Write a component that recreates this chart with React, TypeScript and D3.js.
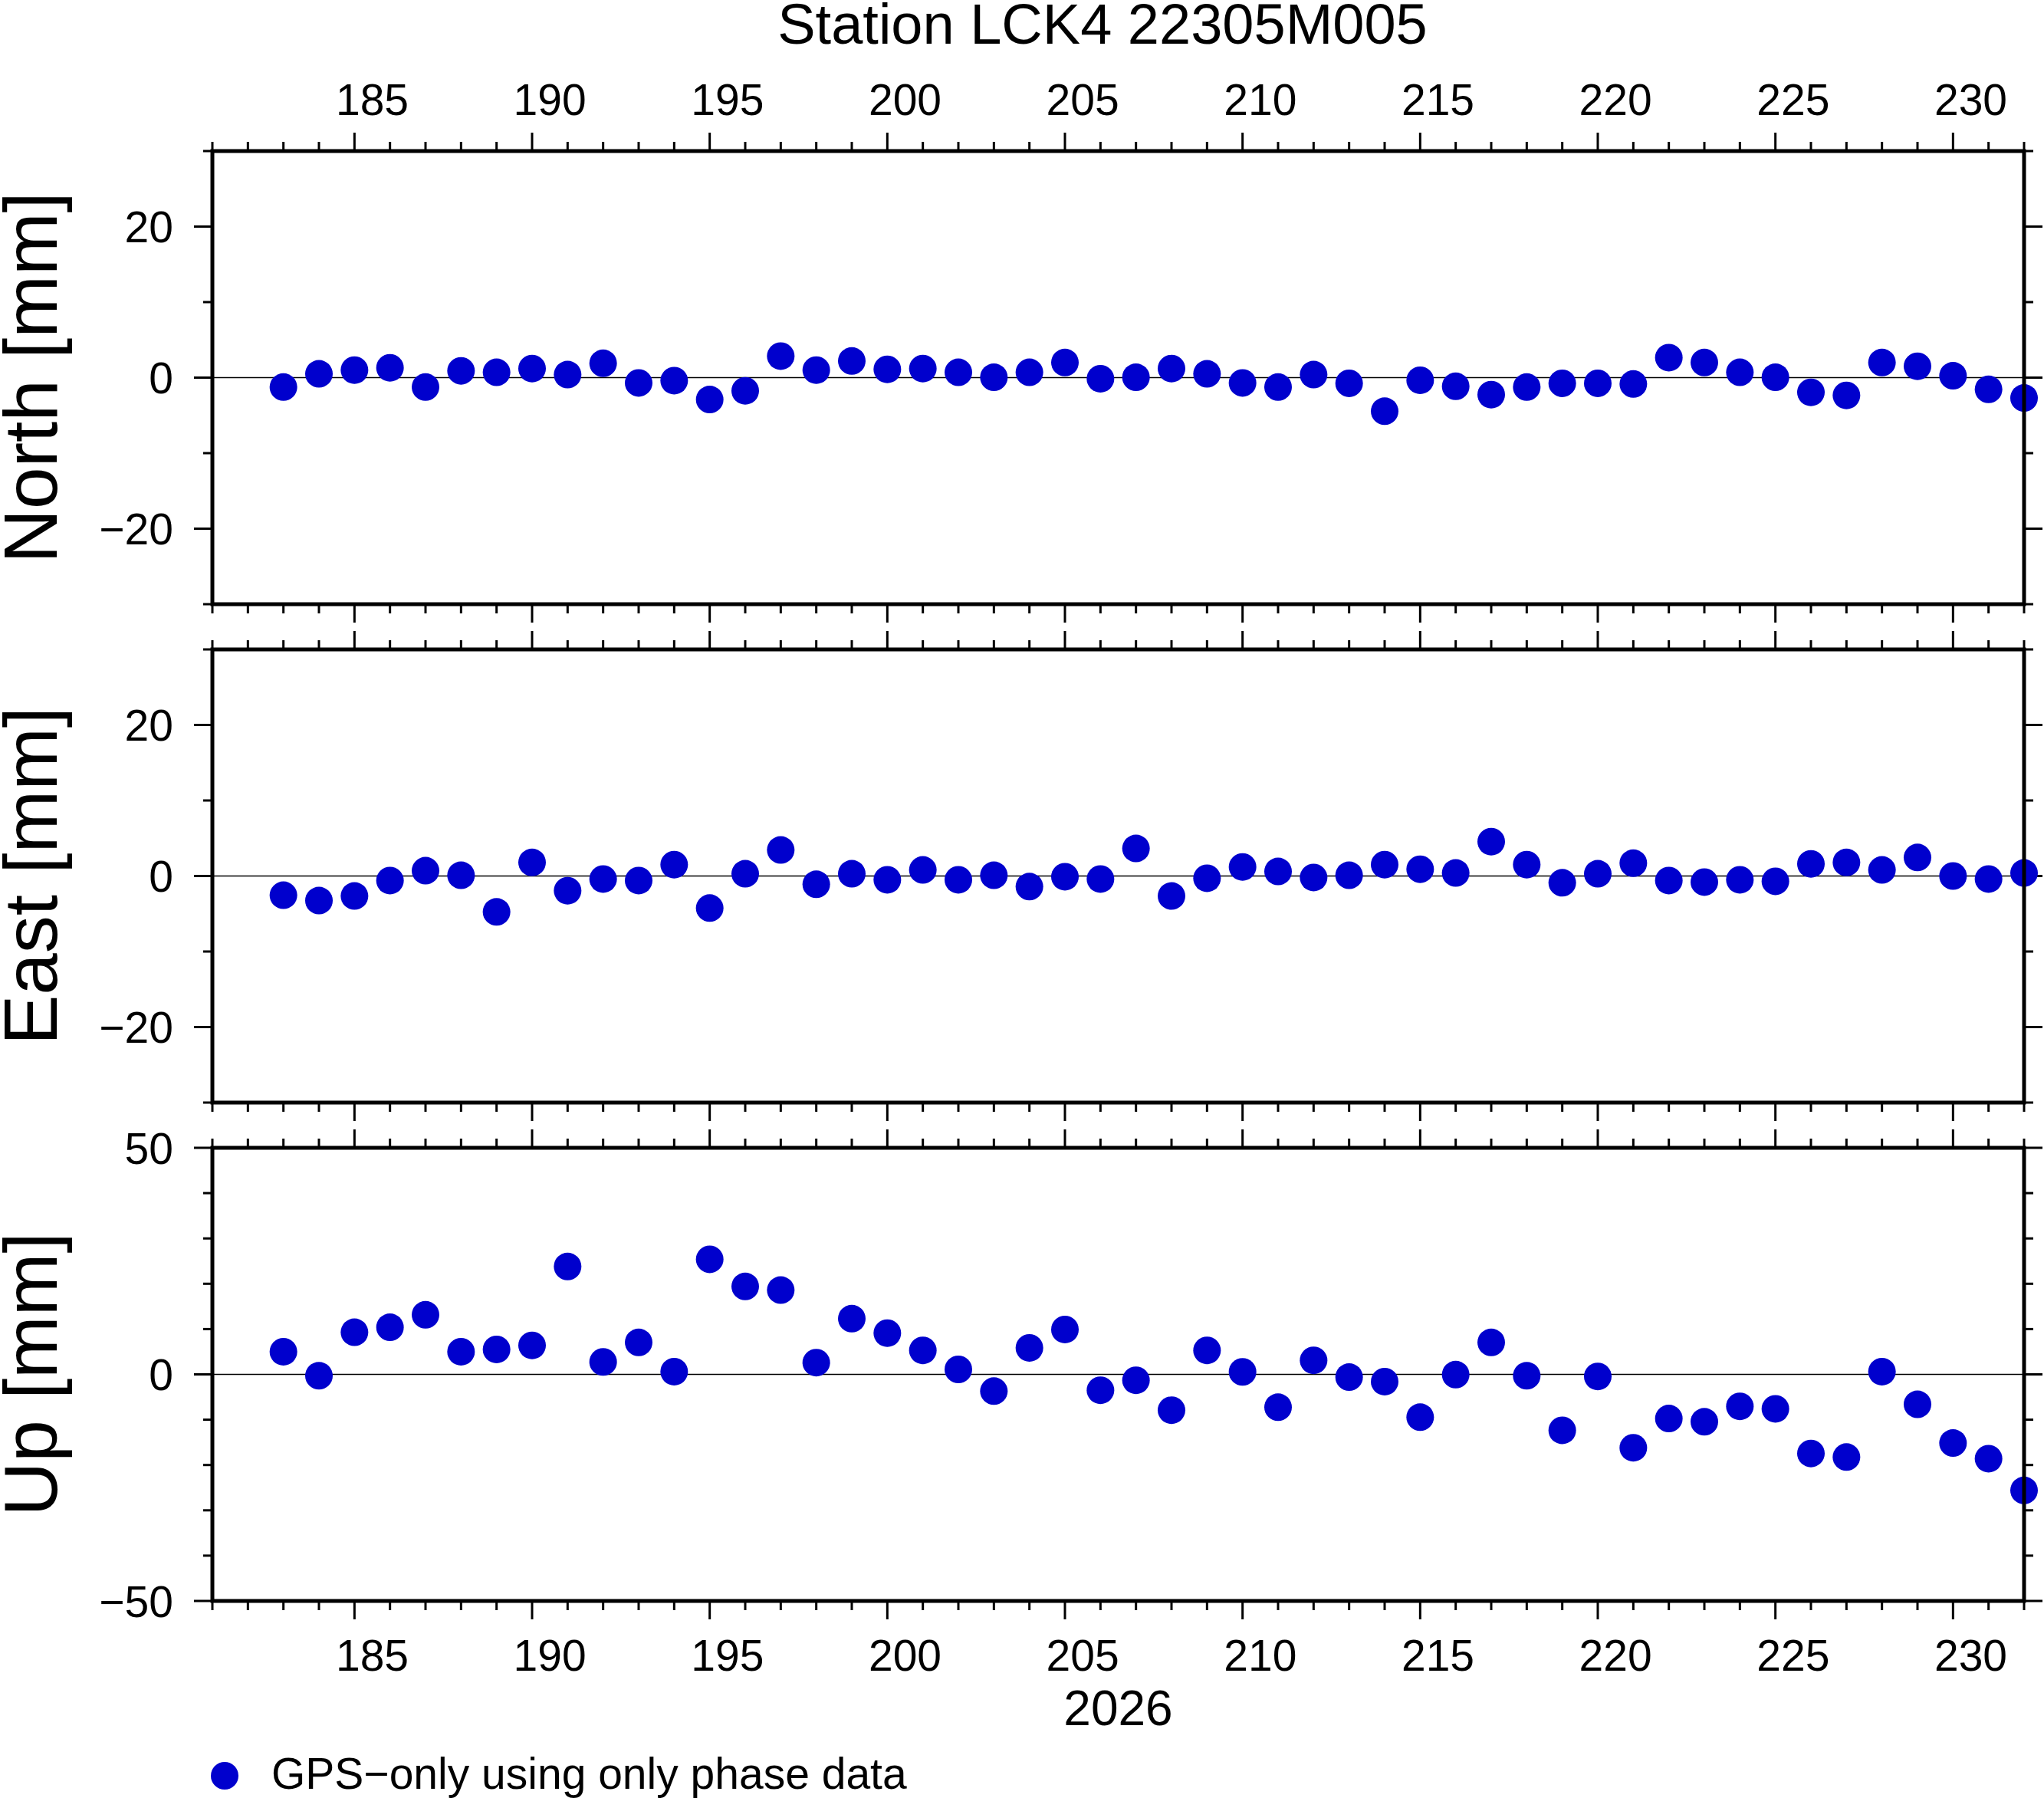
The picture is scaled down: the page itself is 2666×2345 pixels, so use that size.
import { useEffect, useRef } from 'react';
import * as d3 from 'd3';

// Day of year 2026 for each daily solution
const days = [
  183, 184, 185, 186, 187, 188, 189, 190, 191, 192,
  193, 194, 195, 196, 197, 198, 199, 200, 201, 202,
  203, 204, 205, 206, 207, 208, 209, 210, 211, 212,
  213, 214, 215, 216, 217, 218, 219, 220, 221, 222,
  223, 224, 225, 226, 227, 228, 229, 230, 231, 232,
];

// Residuals in mm
const north = [
  -1.25, 0.5, 1.0, 1.3, -1.25, 0.9, 0.7, 1.2, 0.4, 1.9,
  -0.7, -0.4, -2.9, -1.75, 2.85, 1.0, 2.2, 1.1, 1.2, 0.7,
  0.05, 0.7, 2.0, -0.15, 0.05, 1.2, 0.5, -0.7, -1.25, 0.4,
  -0.75, -4.45, -0.35, -1.15, -2.25, -1.25, -0.75, -0.75, -0.85, 2.65,
  2.0, 0.7, 0.05, -1.95, -2.35, 2.0, 1.5, 0.25, -1.55, -2.7,
];

const east = [
  -2.55, -3.25, -2.65, -0.6, 0.7, 0.1, -4.75, 1.8, -1.95, -0.4,
  -0.6, 1.5, -4.25, 0.3, 3.45, -1.1, 0.3, -0.5, 0.8, -0.5,
  0.1, -1.4, -0.1, -0.4, 3.65, -2.65, -0.3, 1.2, 0.6, -0.2,
  0.1, 1.5, 0.9, 0.4, 4.55, 1.5, -0.9, 0.3, 1.7, -0.6,
  -0.8, -0.5, -0.7, 1.6, 1.8, 0.8, 2.45, 0.0, -0.4, 0.4,
];

const up = [
  5.0, -0.3, 9.3, 10.4, 13.15, 5.0, 5.5, 6.4, 23.8, 2.75,
  7.05, 0.6, 25.4, 19.4, 18.6, 2.6, 12.3, 9.1, 5.3, 1.1,
  -3.7, 5.85, 9.9, -3.5, -1.3, -7.9, 5.3, 0.55, -7.25, 3.1,
  -0.6, -1.6, -9.45, -0.05, 7.05, -0.3, -12.35, -0.45, -16.2, -9.75,
  -10.45, -7.05, -7.6, -17.45, -18.25, 0.6, -6.6, -15.15, -18.6, -25.6,
];

const xDomain = [181, 232];
const xMajor = [185, 190, 195, 200, 205, 210, 215, 220, 225, 230];
const xMinor = [
  181, 182, 183, 184, 186, 187, 188, 189, 191, 192, 193, 194, 196, 197, 198, 199,
  201, 202, 203, 204, 206, 207, 208, 209, 211, 212, 213, 214, 216, 217, 218, 219,
  221, 222, 223, 224, 226, 227, 228, 229, 231, 232,
];

const nsYMajor = [-20, 0, 20];
const nsYMinor = [-30, -10, 10, 30];
const upYMajor = [-50, 0, 50];
const upYMinor = [-40, -30, -20, -10, 10, 20, 30, 40];

const title = 'Station LCK4 22305M005';
const xTitle = '2026';
const legendLabel = 'GPS\u2212only using only phase data';

const FONT = '"Liberation Sans", Arial, Helvetica, sans-serif';
const DOT = '#0000cd';

interface Panel {
  label: string;
  top: number;
  domain: [number, number];
  major: number[];
  minor: number[];
  values: number[];
}

export default function App() {
  const svgRef = useRef<SVGSVGElement>(null);

  useEffect(() => {
    if (!svgRef.current) return;
    const svg = d3.select(svgRef.current);
    svg.selectAll('*').remove();

    const W = 2666;
    const H = 2345;
    const left = 277;
    const right = 2640;
    const panelH = 591;
    const majorLen = 24;
    const minorLen = 12;

    svg.attr('width', W).attr('height', H);
    svg.append('rect').attr('width', W).attr('height', H).attr('fill', '#fff');

    const x = d3.scaleLinear().domain(xDomain).range([left, right]);
    const fmt = (v: number) => (v < 0 ? '\u2212' + Math.abs(v) : String(v));

    const panels: Panel[] = [
      { label: 'North [mm]', top: 197, domain: [-30, 30], major: nsYMajor, minor: nsYMinor, values: north },
      { label: 'East [mm]', top: 847, domain: [-30, 30], major: nsYMajor, minor: nsYMinor, values: east },
      { label: 'Up [mm]', top: 1497, domain: [-50, 50], major: upYMajor, minor: upYMinor, values: up },
    ];

    panels.forEach((p, i) => {
      const top = p.top;
      const bottom = top + panelH;
      const y = d3.scaleLinear().domain(p.domain).range([bottom, top]);
      const g = svg.append('g');

      // zero line
      g.append('line')
        .attr('x1', left)
        .attr('x2', right)
        .attr('y1', y(0))
        .attr('y2', y(0))
        .attr('stroke', '#000')
        .attr('stroke-width', 1.5);

      // x ticks on top and bottom edges
      const xt = g.append('g').attr('stroke', '#000').attr('stroke-width', 3);
      const addXTicks = (vals: number[], len: number) => {
        xt.selectAll(null)
          .data(vals)
          .enter()
          .append('line')
          .attr('x1', (d) => x(d))
          .attr('x2', (d) => x(d))
          .attr('y1', top)
          .attr('y2', top - len);
        xt.selectAll(null)
          .data(vals)
          .enter()
          .append('line')
          .attr('x1', (d) => x(d))
          .attr('x2', (d) => x(d))
          .attr('y1', bottom)
          .attr('y2', bottom + len);
      };
      addXTicks(xMajor, majorLen);
      addXTicks(xMinor, minorLen);

      // y ticks on left and right edges
      const addYTicks = (vals: number[], len: number) => {
        xt.selectAll(null)
          .data(vals)
          .enter()
          .append('line')
          .attr('x1', left)
          .attr('x2', left - len)
          .attr('y1', (d) => y(d))
          .attr('y2', (d) => y(d));
        xt.selectAll(null)
          .data(vals)
          .enter()
          .append('line')
          .attr('x1', right)
          .attr('x2', right + len)
          .attr('y1', (d) => y(d))
          .attr('y2', (d) => y(d));
      };
      addYTicks(p.major, majorLen);
      addYTicks(p.minor, minorLen);

      // y tick labels
      g.selectAll(null)
        .data(p.major)
        .enter()
        .append('text')
        .attr('x', 226)
        .attr('y', (d) => y(d))
        .attr('dy', '0.36em')
        .attr('text-anchor', 'end')
        .attr('font-family', FONT)
        .attr('font-size', 57)
        .text((d) => fmt(d));

      // y title
      g.append('text')
        .attr('transform', `translate(74,${(top + bottom) / 2}) rotate(-90)`)
        .attr('text-anchor', 'middle')
        .attr('font-family', FONT)
        .attr('font-size', 98)
        .text(p.label);

      // x labels (centered in the day interval)
      if (i === 0 || i === panels.length - 1) {
        g.selectAll(null)
          .data(xMajor)
          .enter()
          .append('text')
          .attr('x', (d) => x(d + 0.5))
          .attr('y', i === 0 ? 150 : 2179)
          .attr('text-anchor', 'middle')
          .attr('font-family', FONT)
          .attr('font-size', 57)
          .text((d) => d);
      }

      // points
      g.selectAll(null)
        .data(days)
        .enter()
        .append('circle')
        .attr('cx', (d) => x(d))
        .attr('cy', (_d, k) => y(p.values[k]))
        .attr('r', 18)
        .attr('fill', DOT);

      // frame
      g.append('rect')
        .attr('x', left)
        .attr('y', top)
        .attr('width', right - left)
        .attr('height', panelH)
        .attr('fill', 'none')
        .attr('stroke', '#000')
        .attr('stroke-width', 5);
    });

    // title
    svg.append('text')
      .attr('x', 1438)
      .attr('y', 57)
      .attr('text-anchor', 'middle')
      .attr('font-family', FONT)
      .attr('font-size', 74)
      .text(title);

    // x axis title
    svg.append('text')
      .attr('x', (left + right) / 2)
      .attr('y', 2250)
      .attr('text-anchor', 'middle')
      .attr('font-family', FONT)
      .attr('font-size', 64)
      .text(xTitle);

    // legend
    svg.append('circle').attr('cx', 293).attr('cy', 2316).attr('r', 18).attr('fill', DOT);
    svg.append('text')
      .attr('x', 354)
      .attr('y', 2333)
      .attr('font-family', FONT)
      .attr('font-size', 57)
      .text(legendLabel);
  }, []);

  return (
    <div style={{ position: 'absolute', left: 0, top: 0 }}>
      <svg ref={svgRef} style={{ display: 'block' }} />
    </div>
  );
}
